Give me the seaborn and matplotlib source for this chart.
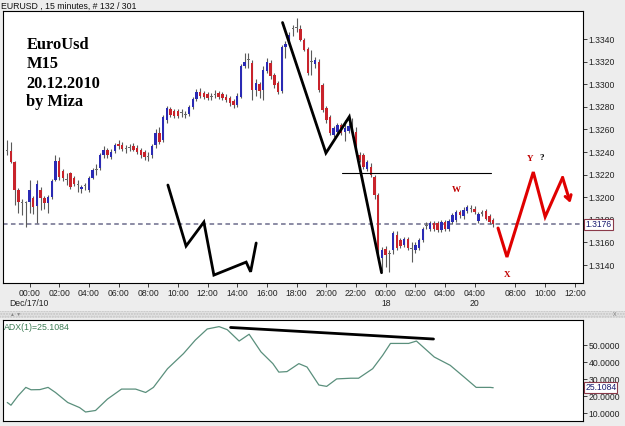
import matplotlib
matplotlib.use("Agg")
import matplotlib.pyplot as plt
import matplotlib.transforms as mtransforms
from matplotlib.patches import Rectangle
import numpy as np
import pandas as pd
import seaborn as sns

# ---------------- data ----------------
bar_open = [1.3241, 1.3241, 1.3231, 1.3206, 1.3196, 1.3195, 1.3196, 1.3199, 1.3192, 1.3206,
            1.3199, 1.3195, 1.3200, 1.3215, 1.3232, 1.3223, 1.3216, 1.3221, 1.3217, 1.3211,
            1.3207, 1.3210, 1.3206, 1.3217, 1.3224, 1.3226, 1.3237, 1.3242, 1.3236, 1.3241,
            1.3247, 1.3246, 1.3243, 1.3244, 1.3245, 1.3244, 1.3242, 1.3240, 1.3236, 1.3237,
            1.3246, 1.3257, 1.3251, 1.3268, 1.3278, 1.3276, 1.3276, 1.3275, 1.3273, 1.3274,
            1.3280, 1.3287, 1.3293, 1.3292, 1.3291, 1.3289, 1.3291, 1.3292, 1.3291, 1.3289,
            1.3288, 1.3285, 1.3282, 1.3289, 1.3316, 1.3322, 1.3319, 1.3295, 1.3300, 1.3295,
            1.3312, 1.3319, 1.3308, 1.3301, 1.3294, 1.3333, 1.3337, 1.3349, 1.3350, 1.3349,
            1.3339, 1.3331, 1.3320, 1.3318, 1.3320, 1.3299, 1.3279, 1.3271, 1.3255, 1.3258,
            1.3264, 1.3258, 1.3259, 1.3260, 1.3258, 1.3237, 1.3237, 1.3225, 1.3227, 1.3218,
            1.3202, 1.3146, 1.3154, 1.3150, 1.3153, 1.3167, 1.3162, 1.3158, 1.3163, 1.3155,
            1.3153, 1.3155, 1.3162, 1.3175, 1.3172, 1.3177, 1.3177, 1.3171, 1.3178, 1.3172,
            1.3178, 1.3180, 1.3187, 1.3183, 1.3188, 1.3190, 1.3190, 1.3179, 1.3186, 1.3188,
            1.3183, 1.3180]
bar_high = [1.3251, 1.3249, 1.3232, 1.3208, 1.3198, 1.3197, 1.3215, 1.3201, 1.3215, 1.3209,
            1.3201, 1.3202, 1.3216, 1.3237, 1.3236, 1.3225, 1.3221, 1.3222, 1.3219, 1.3215,
            1.3211, 1.3213, 1.3219, 1.3226, 1.3229, 1.3239, 1.3245, 1.3244, 1.3243, 1.3248,
            1.3251, 1.3249, 1.3246, 1.3247, 1.3248, 1.3246, 1.3244, 1.3242, 1.3240, 1.3247,
            1.3260, 1.3262, 1.3273, 1.3281, 1.3280, 1.3278, 1.3278, 1.3278, 1.3276, 1.3282,
            1.3289, 1.3296, 1.3297, 1.3294, 1.3293, 1.3292, 1.3295, 1.3294, 1.3293, 1.3291,
            1.3290, 1.3287, 1.3292, 1.3318, 1.3328, 1.3328, 1.3321, 1.3305, 1.3302, 1.3316,
            1.3323, 1.3321, 1.3310, 1.3303, 1.3335, 1.3338, 1.3346, 1.3352, 1.3359, 1.3352,
            1.3341, 1.3333, 1.3330, 1.3324, 1.3322, 1.3301, 1.3281, 1.3273, 1.3263, 1.3266,
            1.3266, 1.3268, 1.3266, 1.3270, 1.3262, 1.3240, 1.3239, 1.3233, 1.3230, 1.3220,
            1.3204, 1.3156, 1.3157, 1.3153, 1.3170, 1.3170, 1.3164, 1.3165, 1.3165, 1.3160,
            1.3160, 1.3164, 1.3174, 1.3178, 1.3179, 1.3179, 1.3179, 1.3180, 1.3180, 1.3181,
            1.3186, 1.3189, 1.3189, 1.3191, 1.3193, 1.3193, 1.3192, 1.3187, 1.3189, 1.3190,
            1.3185, 1.3182]
bar_low = [1.3237, 1.3230, 1.3193, 1.3186, 1.3184, 1.3174, 1.3186, 1.3185, 1.3177, 1.3189,
           1.3190, 1.3186, 1.3198, 1.3214, 1.3215, 1.3214, 1.3211, 1.3207, 1.3210, 1.3205,
           1.3204, 1.3206, 1.3205, 1.3216, 1.3220, 1.3224, 1.3235, 1.3235, 1.3234, 1.3239,
           1.3243, 1.3241, 1.3239, 1.3241, 1.3241, 1.3238, 1.3235, 1.3233, 1.3232, 1.3235,
           1.3244, 1.3247, 1.3249, 1.3266, 1.3271, 1.3270, 1.3270, 1.3271, 1.3270, 1.3272,
           1.3278, 1.3285, 1.3288, 1.3287, 1.3286, 1.3286, 1.3288, 1.3287, 1.3286, 1.3284,
           1.3281, 1.3279, 1.3280, 1.3288, 1.3314, 1.3314, 1.3286, 1.3290, 1.3288, 1.3286,
           1.3310, 1.3305, 1.3297, 1.3291, 1.3292, 1.3323, 1.3335, 1.3343, 1.3346, 1.3338,
           1.3329, 1.3308, 1.3308, 1.3314, 1.3293, 1.3275, 1.3266, 1.3255, 1.3253, 1.3256,
           1.3255, 1.3250, 1.3257, 1.3255, 1.3244, 1.3231, 1.3225, 1.3223, 1.3218, 1.3198,
           1.3150, 1.3135, 1.3138, 1.3134, 1.3150, 1.3153, 1.3155, 1.3156, 1.3153, 1.3143,
           1.3151, 1.3153, 1.3160, 1.3172, 1.3170, 1.3170, 1.3169, 1.3169, 1.3170, 1.3170,
           1.3176, 1.3178, 1.3182, 1.3181, 1.3186, 1.3187, 1.3185, 1.3177, 1.3183, 1.3180,
           1.3176, 1.3174]
bar_close = [1.3241, 1.3231, 1.3206, 1.3196, 1.3195, 1.3195, 1.3206, 1.3191, 1.3212, 1.3199,
             1.3195, 1.3200, 1.3214, 1.3232, 1.3218, 1.3217, 1.3216, 1.3209, 1.3212, 1.3211,
             1.3209, 1.3210, 1.3217, 1.3224, 1.3225, 1.3237, 1.3242, 1.3237, 1.3240, 1.3246,
             1.3245, 1.3243, 1.3243, 1.3244, 1.3242, 1.3240, 1.3237, 1.3236, 1.3236, 1.3245,
             1.3257, 1.3249, 1.3271, 1.3279, 1.3273, 1.3272, 1.3272, 1.3275, 1.3273, 1.3280,
             1.3287, 1.3293, 1.3290, 1.3289, 1.3288, 1.3289, 1.3291, 1.3289, 1.3288, 1.3286,
             1.3283, 1.3282, 1.3290, 1.3316, 1.3320, 1.3321, 1.3295, 1.3301, 1.3294, 1.3313,
             1.3320, 1.3307, 1.3299, 1.3293, 1.3333, 1.3336, 1.3344, 1.3349, 1.3350, 1.3339,
             1.3330, 1.3310, 1.3320, 1.3321, 1.3295, 1.3277, 1.3268, 1.3257, 1.3261, 1.3264,
             1.3257, 1.3261, 1.3263, 1.3260, 1.3245, 1.3233, 1.3227, 1.3231, 1.3220, 1.3202,
             1.3153, 1.3153, 1.3149, 1.3150, 1.3168, 1.3155, 1.3157, 1.3163, 1.3155, 1.3155,
             1.3158, 1.3162, 1.3172, 1.3175, 1.3177, 1.3172, 1.3171, 1.3178, 1.3172, 1.3179,
             1.3184, 1.3187, 1.3184, 1.3189, 1.3191, 1.3190, 1.3187, 1.3185, 1.3186, 1.3181,
             1.3178, 1.3176]
bar_index = list(range(len(bar_close)))

xtick_pos = [6, 14, 22, 30, 38, 46, 54, 62, 70, 78, 86, 94, 102, 110, 118, 126, 137, 145, 153]
xtick_labels = ["00:00", "02:00", "04:00", "06:00", "08:00", "10:00", "12:00", "14:00", "16:00",
                "18:00", "20:00", "22:00", "00:00", "02:00", "04:00", "04:00", "08:00", "10:00", "12:00"]
date_labels = ["18", "20"]
date_pos = [102, 126]
price_ticks = [1.3140, 1.3160, 1.3180, 1.3200, 1.3220, 1.3240, 1.3260, 1.3280, 1.3300, 1.3320, 1.3340]
last_price = 1.3176

adx_x = [0, 1, 2.9, 5, 6.4, 8.8, 11, 13, 16.3, 19.5, 21.1, 23.8, 27, 30.8, 34.6, 37.3, 39.4, 43.2,
         47.5, 50.7, 53.9, 57.1, 59.3, 62.5, 65.2, 68.4, 71.6, 73.2, 75.4, 78.6, 80.8, 84, 86.1,
         88.8, 92.6, 94.7, 98.5, 101.2, 103.3, 108.2, 110.3, 115.1, 119.4, 123.2, 126.4, 130.2, 131]
adx_v = [16.4, 14.8, 20.3, 25.3, 23.9, 24.0, 25.3, 22.3, 16.4, 13.4, 10.8, 11.7, 18.4, 24.3, 24.3,
         22.3, 25.3, 36.3, 45.2, 53.2, 59.7, 61.1, 59.3, 52.6, 56.6, 46.2, 39.3, 34.3, 34.6, 39.3,
         37.3, 26.7, 25.9, 30.3, 30.7, 30.7, 36.3, 44.2, 51.2, 51.2, 52.6, 43.2, 38.3, 31.3, 25.3,
         25.3, 25.1]
adx_last = 25.1084
adx_ticks = [10, 20, 30, 40, 50]

# hand-drawn analysis lines (bar index, price)
drop_x = [74.2, 85.9, 92.2, 100.9]
drop_y = [1.33546, 1.32391, 1.32712, 1.31332]
left_x = [43.3, 48.2, 53.0, 55.7, 64.4, 65.6, 67.1]
left_y = [1.32108, 1.31568, 1.31780, 1.31311, 1.31426, 1.31340, 1.31595]
proj_x = [132.3, 134.7, 141.8, 145.0, 149.7, 151.8]
proj_y = [1.31727, 1.31471, 1.32223, 1.31827, 1.32174, 1.31949]
level_x = [90.2, 130.3]
level_y = [1.3221, 1.3221]
adx_trend_x = [60.2, 114.9]
adx_trend_v = [60.6, 53.8]
wave_labels = ["W", "X", "Y"]
wave_x = [121.1, 134.6, 140.9]
wave_y = [1.32068, 1.31311, 1.32338]

# ---------------- style ----------------
sns.set_style("white")
plt.rcParams["font.family"] = ["Liberation Sans", "DejaVu Sans"]
W, H = 625, 426
bg = "#EDEDED"
fig = plt.figure(figsize=(W / 100, H / 100), dpi=100, facecolor=bg)


def fx(px):
    return px / W


def fy(py):
    return 1 - py / H


ax = fig.add_axes([fx(3), fy(283), fx(583) - fx(3), fy(11) - fy(283)])
ax2 = fig.add_axes([fx(3), fy(421), fx(583) - fx(3), fy(320) - fy(421)])

for a in (ax, ax2):
    a.set_facecolor("white")
    for s in a.spines.values():
        s.set_color("black")
        s.set_linewidth(0.8)
        s.set_visible(True)
    a.set_xlim(-1.15, 155.2)

ax.set_ylim(1.31241, 1.33648)
ax2.set_ylim(5.5, 65.0)

# ---------------- candles ----------------
df = pd.DataFrame({"k": bar_index, "o": bar_open, "h": bar_high, "l": bar_low, "c": bar_close})
diff = df["c"] - df["o"]
doji = diff.abs() < 0.00012
colors = np.where(doji, "#6a6a6a", np.where(diff > 0, "#2a2ab4", "#c8232b"))
bottom = np.where(doji, (df["o"] + df["c"]) / 2 - 0.00005, np.minimum(df["o"], df["c"]))
height = np.where(doji, 0.0001, diff.abs())

ax.vlines(df["k"], df["l"], df["h"], color="#5a5a5a", lw=0.8, zorder=2)
ax.bar(df["k"], height, bottom=bottom, width=0.66, color=colors, linewidth=0, zorder=3)

# current price dashed line
ax.axhline(last_price, color="#6c6c8c", lw=1.1, ls=(0, (3, 2.2)), zorder=1)

# analysis lines
ax.plot(level_x, level_y, color="black", lw=0.8, zorder=4)
ax.plot(drop_x, drop_y, color="black", lw=2.0, zorder=5, solid_joinstyle="miter")
ax.plot(left_x, left_y, color="black", lw=2.0, zorder=5, solid_joinstyle="miter")
ax.plot(proj_x[:-1], proj_y[:-1], color="#e00000", lw=2.2, zorder=5, solid_joinstyle="miter")
ax.annotate("", xy=(proj_x[-1], proj_y[-1]), xytext=(proj_x[-2], proj_y[-2]),
            arrowprops=dict(arrowstyle="->,head_length=0.35,head_width=0.22", color="#e00000",
                            lw=2.2, shrinkA=0, shrinkB=0), zorder=6)

for lab, x, y in zip(wave_labels, wave_x, wave_y):
    ax.text(x, y, lab, color="#c00000", fontsize=6.5, fontweight="bold",
            family="Liberation Serif", ha="center", va="center", zorder=6)
ax.text(wave_x[2] + 3.2, wave_y[2] + 0.00008, "?", color="black", fontsize=6.5,
        fontweight="bold", family="Liberation Serif", ha="center", va="center")

# title block
for txt, py in zip(["EuroUsd", "M15", "20.12.2010", "by Miza"], [45, 64.5, 83.5, 102.5]):
    fig.text(fx(26.5), fy(py), txt, family="Liberation Serif", fontweight="bold",
             fontsize=11.8, color="black", ha="left", va="center")

fig.text(fx(1), fy(6), "EURUSD , 15 minutes, # 132 / 301", fontsize=6.3, color="#111111",
         ha="left", va="center")

# axes ticks
ax.yaxis.tick_right()
ax.set_yticks(price_ticks)
ax.set_yticklabels([f"{v:.4f}" for v in price_ticks])
ax.set_xticks(xtick_pos)
ax.set_xticklabels(xtick_labels)
ax.tick_params(axis="both", labelsize=6.2, colors="#222222", length=3, width=0.6, pad=1.5,
               direction="out")
ax.tick_params(axis="x", bottom=True, top=False)
ax.tick_params(axis="y", right=True, left=False, pad=1.2)

tr = mtransforms.blended_transform_factory(ax.transData, fig.transFigure)
for lab, x in zip(date_labels, date_pos):
    ax.text(x, fy(303.5), lab, transform=tr, fontsize=6.2, color="#222222", ha="center", va="center")
fig.text(fx(9), fy(303.5), "Dec/17/10", fontsize=6.2, color="#222222", ha="left", va="center")

trp = mtransforms.blended_transform_factory(ax.transAxes, ax.transData)
ax.text(1.004, last_price, f"{last_price:.4f}", transform=trp, fontsize=6.2, color="#1a1a70",
        ha="left", va="center", zorder=10,
        bbox=dict(boxstyle="square,pad=0.15", facecolor="white", edgecolor="#8a3a4a", lw=0.8))

# divider strip
strip = Rectangle((0, fy(318)), 1, fy(311) - fy(318), transform=fig.transFigure,
                  facecolor="#e2e2e2", edgecolor="#c4c4c4", hatch="......", lw=0)
fig.patches.append(strip)
fig.text(fx(10), fy(314.5), "▲ ▼", fontsize=3.5, color="#888888", ha="left", va="center")
fig.text(fx(615), fy(314), "x", fontsize=5, color="#888888", ha="center", va="center")

# ---------------- ADX panel ----------------
adx_df = pd.DataFrame({"bar": adx_x, "adx": adx_v})
sns.lineplot(data=adx_df, x="bar", y="adx", ax=ax2, color="#5a8f7c", lw=0.9, sort=False)
ax2.plot(adx_trend_x, adx_trend_v, color="black", lw=2.0)
ax2.set_xlabel("")
ax2.set_ylabel("")
ax2.yaxis.tick_right()
ax2.set_yticks(adx_ticks)
ax2.set_yticklabels([f"{v:.4f}" for v in adx_ticks])
ax2.set_xticks([])
ax2.tick_params(axis="y", labelsize=6.2, colors="#222222", length=3, width=0.6, pad=1.2,
                right=True, left=False)
ax2.text(0.002, 0.975, f"ADX(1)={adx_last:.4f}", transform=ax2.transAxes, fontsize=6.3,
         color="#3d7d55", ha="left", va="top")
trp2 = mtransforms.blended_transform_factory(ax2.transAxes, ax2.transData)
ax2.text(1.004, adx_last, f"{adx_last:.4f}", transform=trp2, fontsize=6.2, color="#1a1a70",
         ha="left", va="center", zorder=10,
         bbox=dict(boxstyle="square,pad=0.1", facecolor="white", edgecolor="#8a3a4a", lw=0.8))

fig.savefig("out.png", dpi=100, facecolor=bg)
